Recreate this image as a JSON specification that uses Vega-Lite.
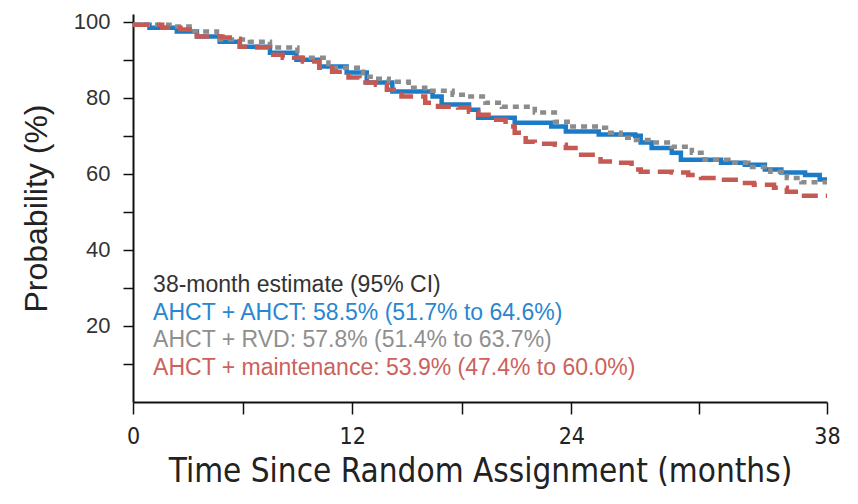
{
  "$schema": "https://vega.github.io/schema/vega-lite/v6.json",
  "width": 694,
  "height": 388,
  "autosize": {"type": "none"},
  "padding": {"left": 133, "top": 14, "right": 31, "bottom": 102},
  "background": "white",
  "config": {"view": {"stroke": null}, "font": "Liberation Sans"},
  "datasets": {
    "curves": [
      {"s": "AHCT + AHCT", "t": 0, "p": 99.2},
      {"s": "AHCT + AHCT", "t": 0.9, "p": 98.4},
      {"s": "AHCT + AHCT", "t": 2.4, "p": 97.4},
      {"s": "AHCT + AHCT", "t": 3.5, "p": 96.1},
      {"s": "AHCT + AHCT", "t": 4.75, "p": 94.7},
      {"s": "AHCT + AHCT", "t": 5.85, "p": 93.4},
      {"s": "AHCT + AHCT", "t": 7.5, "p": 91.8},
      {"s": "AHCT + AHCT", "t": 8.95, "p": 90.0},
      {"s": "AHCT + AHCT", "t": 10.2, "p": 88.2},
      {"s": "AHCT + AHCT", "t": 11.7, "p": 86.6},
      {"s": "AHCT + AHCT", "t": 12.8, "p": 84.0},
      {"s": "AHCT + AHCT", "t": 14.2, "p": 81.6},
      {"s": "AHCT + AHCT", "t": 16.4, "p": 80.3},
      {"s": "AHCT + AHCT", "t": 16.9, "p": 78.2},
      {"s": "AHCT + AHCT", "t": 18.4, "p": 76.8},
      {"s": "AHCT + AHCT", "t": 18.9, "p": 74.7},
      {"s": "AHCT + AHCT", "t": 20.9, "p": 73.4},
      {"s": "AHCT + AHCT", "t": 22.9, "p": 72.4},
      {"s": "AHCT + AHCT", "t": 23.7, "p": 71.1},
      {"s": "AHCT + AHCT", "t": 25.5, "p": 70.3},
      {"s": "AHCT + AHCT", "t": 27.5, "p": 70.0},
      {"s": "AHCT + AHCT", "t": 27.8, "p": 68.2},
      {"s": "AHCT + AHCT", "t": 28.4, "p": 66.8},
      {"s": "AHCT + AHCT", "t": 29.5, "p": 65.5},
      {"s": "AHCT + AHCT", "t": 30.0, "p": 63.7},
      {"s": "AHCT + AHCT", "t": 32.2, "p": 62.9},
      {"s": "AHCT + AHCT", "t": 33.5, "p": 62.4},
      {"s": "AHCT + AHCT", "t": 34.6, "p": 61.1},
      {"s": "AHCT + AHCT", "t": 35.5, "p": 60.3},
      {"s": "AHCT + AHCT", "t": 36.8, "p": 59.7},
      {"s": "AHCT + AHCT", "t": 37.6, "p": 58.5},
      {"s": "AHCT + AHCT", "t": 38, "p": 58.5},
      {"s": "AHCT + RVD", "t": 0, "p": 99.2},
      {"s": "AHCT + RVD", "t": 2.0, "p": 98.7},
      {"s": "AHCT + RVD", "t": 3.1, "p": 97.4},
      {"s": "AHCT + RVD", "t": 4.6, "p": 95.3},
      {"s": "AHCT + RVD", "t": 6.4, "p": 94.7},
      {"s": "AHCT + RVD", "t": 7.5, "p": 93.2},
      {"s": "AHCT + RVD", "t": 9.0, "p": 90.5},
      {"s": "AHCT + RVD", "t": 10.7, "p": 87.9},
      {"s": "AHCT + RVD", "t": 12.6, "p": 85.5},
      {"s": "AHCT + RVD", "t": 13.3, "p": 85.0},
      {"s": "AHCT + RVD", "t": 14.0, "p": 84.2},
      {"s": "AHCT + RVD", "t": 15.1, "p": 82.6},
      {"s": "AHCT + RVD", "t": 16.0, "p": 81.8},
      {"s": "AHCT + RVD", "t": 17.5, "p": 80.8},
      {"s": "AHCT + RVD", "t": 18.2, "p": 80.3},
      {"s": "AHCT + RVD", "t": 19.3, "p": 78.7},
      {"s": "AHCT + RVD", "t": 20.2, "p": 77.6},
      {"s": "AHCT + RVD", "t": 22.0, "p": 76.1},
      {"s": "AHCT + RVD", "t": 23.1, "p": 73.7},
      {"s": "AHCT + RVD", "t": 23.8, "p": 72.4},
      {"s": "AHCT + RVD", "t": 25.5, "p": 72.1},
      {"s": "AHCT + RVD", "t": 25.9, "p": 70.8},
      {"s": "AHCT + RVD", "t": 26.7, "p": 69.5},
      {"s": "AHCT + RVD", "t": 27.3, "p": 68.9},
      {"s": "AHCT + RVD", "t": 28.6, "p": 68.2},
      {"s": "AHCT + RVD", "t": 29.5, "p": 67.1},
      {"s": "AHCT + RVD", "t": 30.6, "p": 65.5},
      {"s": "AHCT + RVD", "t": 31.3, "p": 63.7},
      {"s": "AHCT + RVD", "t": 32.6, "p": 62.9},
      {"s": "AHCT + RVD", "t": 33.7, "p": 61.8},
      {"s": "AHCT + RVD", "t": 34.9, "p": 60.5},
      {"s": "AHCT + RVD", "t": 35.8, "p": 58.9},
      {"s": "AHCT + RVD", "t": 36.6, "p": 57.8},
      {"s": "AHCT + RVD", "t": 38, "p": 57.8},
      {"s": "AHCT + maintenance", "t": 0, "p": 99.2},
      {"s": "AHCT + maintenance", "t": 1.6, "p": 98.4},
      {"s": "AHCT + maintenance", "t": 2.6, "p": 97.9},
      {"s": "AHCT + maintenance", "t": 3.5, "p": 96.1},
      {"s": "AHCT + maintenance", "t": 4.9, "p": 95.8},
      {"s": "AHCT + maintenance", "t": 5.5, "p": 95.5},
      {"s": "AHCT + maintenance", "t": 5.85, "p": 93.4},
      {"s": "AHCT + maintenance", "t": 6.8, "p": 93.2},
      {"s": "AHCT + maintenance", "t": 7.5, "p": 91.3},
      {"s": "AHCT + maintenance", "t": 8.2, "p": 90.5},
      {"s": "AHCT + maintenance", "t": 9.3, "p": 89.5},
      {"s": "AHCT + maintenance", "t": 10.2, "p": 87.9},
      {"s": "AHCT + maintenance", "t": 10.9, "p": 86.8},
      {"s": "AHCT + maintenance", "t": 11.8, "p": 85.3},
      {"s": "AHCT + maintenance", "t": 12.4, "p": 84.0},
      {"s": "AHCT + maintenance", "t": 13.3, "p": 83.4},
      {"s": "AHCT + maintenance", "t": 13.9, "p": 82.1},
      {"s": "AHCT + maintenance", "t": 14.7, "p": 80.3},
      {"s": "AHCT + maintenance", "t": 16.0, "p": 78.7},
      {"s": "AHCT + maintenance", "t": 16.7, "p": 77.6},
      {"s": "AHCT + maintenance", "t": 17.8, "p": 77.4},
      {"s": "AHCT + maintenance", "t": 18.4, "p": 76.3},
      {"s": "AHCT + maintenance", "t": 18.9, "p": 75.5},
      {"s": "AHCT + maintenance", "t": 19.6, "p": 74.2},
      {"s": "AHCT + maintenance", "t": 20.4, "p": 72.4},
      {"s": "AHCT + maintenance", "t": 20.9, "p": 70.8},
      {"s": "AHCT + maintenance", "t": 21.5, "p": 68.4},
      {"s": "AHCT + maintenance", "t": 22.0, "p": 67.9},
      {"s": "AHCT + maintenance", "t": 23.1, "p": 67.6},
      {"s": "AHCT + maintenance", "t": 23.7, "p": 66.8},
      {"s": "AHCT + maintenance", "t": 24.4, "p": 65.0},
      {"s": "AHCT + maintenance", "t": 25.5, "p": 64.5},
      {"s": "AHCT + maintenance", "t": 25.6, "p": 63.2},
      {"s": "AHCT + maintenance", "t": 26.4, "p": 62.9},
      {"s": "AHCT + maintenance", "t": 27.3, "p": 61.1},
      {"s": "AHCT + maintenance", "t": 27.8, "p": 60.5},
      {"s": "AHCT + maintenance", "t": 29.5, "p": 60.3},
      {"s": "AHCT + maintenance", "t": 30.4, "p": 59.7},
      {"s": "AHCT + maintenance", "t": 31.1, "p": 58.9},
      {"s": "AHCT + maintenance", "t": 32.2, "p": 58.4},
      {"s": "AHCT + maintenance", "t": 33.0, "p": 57.6},
      {"s": "AHCT + maintenance", "t": 34.0, "p": 57.1},
      {"s": "AHCT + maintenance", "t": 35.1, "p": 56.3},
      {"s": "AHCT + maintenance", "t": 35.8, "p": 55.3},
      {"s": "AHCT + maintenance", "t": 36.6, "p": 54.2},
      {"s": "AHCT + maintenance", "t": 38, "p": 54.2}
    ],
    "notes": [
      {"k": "head", "t": 1.1, "p": 30.8, "label": "38-month estimate (95% CI)"},
      {"k": "AHCT + AHCT", "t": 1.1, "p": 23.5, "label": "AHCT + AHCT: 58.5% (51.7% to 64.6%)"},
      {"k": "AHCT + RVD", "t": 1.1, "p": 16.3, "label": "AHCT + RVD: 57.8% (51.4% to 63.7%)"},
      {"k": "AHCT + maintenance", "t": 1.1, "p": 9.0, "label": "AHCT + maintenance: 53.9% (47.4% to 60.0%)"}
    ]
  },
  "layer": [
    {
      "data": {"name": "curves"},
      "mark": {"type": "line", "interpolate": "step-after", "strokeCap": "butt", "strokeWidth": 4.5},
      "encoding": {
        "x": {
          "field": "t", "type": "quantitative",
          "scale": {"domain": [0, 38], "nice": false, "zero": false},
          "axis": {
            "values": [0, 6, 12, 18, 24, 31, 38],
            "labelExpr": "(datum.value == 0 || datum.value == 12 || datum.value == 24 || datum.value == 38) ? datum.label : ''",
            "grid": false,
            "labelFlush": false,
            "labelOverlap": false,
            "domainColor": "#111", "domainWidth": 2,
            "tickColor": "#111", "tickWidth": 1.5, "tickSize": 12,
            "labelFont": "DejaVu Sans Condensed, Roboto, sans-serif", "labelFontSize": 23, "labelColor": "#222",
            "labelPadding": 11,
            "title": "Time Since Random Assignment (months)",
            "titleFont": "DejaVu Sans Condensed, Roboto, sans-serif", "titleFontSize": 33, "titleFontWeight": "normal",
            "titleColor": "#222", "titlePadding": 7
          }
        },
        "y": {
          "field": "p", "type": "quantitative",
          "scale": {"domain": [0, 102], "nice": false, "zero": false},
          "axis": {
            "values": [10, 20, 30, 40, 50, 60, 70, 80, 90, 100],
            "labelExpr": "datum.value % 20 == 0 ? datum.label : ''",
            "grid": false,
            "domainColor": "#111", "domainWidth": 2,
            "tickColor": "#111", "tickWidth": 1.5, "tickSize": 10,
            "labelFont": "Liberation Sans", "labelFontSize": 22, "labelColor": "#333",
            "labelPadding": 13,
            "title": "Probability (%)",
            "titleFont": "Liberation Sans", "titleFontSize": 32, "titleFontWeight": "normal",
            "titleColor": "#222", "titlePadding": 20
          }
        },
        "color": {
          "field": "s", "type": "nominal",
          "scale": {"domain": ["AHCT + AHCT", "AHCT + RVD", "AHCT + maintenance"], "range": ["#1b7bc6", "#8c8c8c", "#c65a52"]},
          "legend": null
        },
        "strokeDash": {
          "field": "s", "type": "nominal",
          "scale": {"domain": ["AHCT + AHCT", "AHCT + RVD", "AHCT + maintenance"], "range": [[1, 0], [6, 5], [16, 8]]},
          "legend": null
        },
        "order": {"field": "t", "type": "quantitative"}
      }
    },
    {
      "data": {"name": "notes"},
      "mark": {"type": "text", "align": "left", "baseline": "middle", "font": "Liberation Sans", "fontSize": 23},
      "encoding": {
        "x": {"field": "t", "type": "quantitative"},
        "y": {"field": "p", "type": "quantitative"},
        "text": {"field": "label"},
        "color": {
          "field": "k", "type": "nominal",
          "scale": {"domain": ["head", "AHCT + AHCT", "AHCT + RVD", "AHCT + maintenance"], "range": ["#333333", "#2a86d0", "#8f8f8f", "#cc625b"]},
          "legend": null
        }
      }
    }
  ],
  "resolve": {"scale": {"color": "independent"}}
}
